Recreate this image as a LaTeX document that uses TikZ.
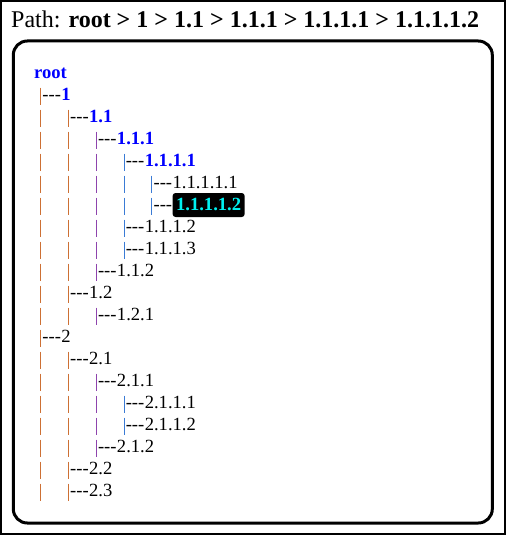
\documentclass[tikz,border=0pt]{standalone}
\usepackage{fontspec}
\setmainfont{Liberation Serif}
\usepackage{xcolor}
\usetikzlibrary{positioning}
\definecolor{pipeA}{RGB}{205,112,52}
\definecolor{pipeB}{RGB}{142,68,173}
\definecolor{pipeC}{RGB}{58,123,213}
\definecolor{pathblue}{RGB}{0,0,255}
\definecolor{hlcyan}{RGB}{0,240,240}
\newcommand{\treedash}{\mbox{-}\mbox{-}\mbox{-}}
\tikzset{
  entry/.style={anchor=base west, inner sep=0pt, font=\fontsize{18.6}{22}\selectfont},
  onpath/.style={entry, text=pathblue, font=\fontsize{18.6}{22}\selectfont\bfseries},
  current/.style={anchor=base west, fill=black, text=hlcyan, rounded corners=3pt,
    inner xsep=3.5pt, inner ysep=0pt, text height=17pt, text depth=7pt,
    font=\fontsize{18.6}{22}\selectfont\bfseries},
  pipe/.style={line width=1.1pt},
}

\begin{document}
\begin{tikzpicture}[x=1pt, y=-1pt]
    \useasboundingbox (0,0) rectangle (506,535);
    \draw[line width=2pt] (1,1) rectangle (505,534);
    \node[anchor=base west, inner sep=0pt, font=\fontsize{24}{28}\selectfont] (title) at (11,28)
      {Path: \textbf{root > 1 > 1.1 > 1.1.1 > 1.1.1.1 > 1.1.1.1.2}};
    \draw[line width=3pt, rounded corners=14pt] (13.3,41) rectangle (492.3,523);
    \node[onpath] (root) at (34,78) {root};
    % depth / label / style of each row
    \foreach \d/\lab/\kind [count=\i] in {
      1/1/onpath, 2/1.1/onpath, 3/1.1.1/onpath, 4/1.1.1.1/onpath,
      5/1.1.1.1.1/entry, 5/1.1.1.1.2/current, 4/1.1.1.2/entry, 4/1.1.1.3/entry,
      3/1.1.2/entry, 2/1.2/entry, 3/1.2.1/entry, 1/2/entry, 2/2.1/entry,
      3/2.1.1/entry, 4/2.1.1.1/entry, 4/2.1.1.2/entry, 3/2.1.2/entry,
      2/2.2/entry, 2/2.3/entry} {
      \pgfmathsetmacro\yb{78+22*\i}
      \foreach \k/\col in {1/pipeA, 2/pipeA, 3/pipeB, 4/pipeC, 5/pipeC} {
        \ifnum\k>\d\relax\else
          \draw[pipe, \col] ({40.7+27.8*(\k-1)},\yb-12.5) -- ++(0,17);
        \fi
      }
      \node[entry] (dash\i) at ({42.2+27.8*(\d-1)},\yb) {\treedash};
      \node[\kind] (row\i) at (dash\i.base east) {\lab};
    }
\end{tikzpicture}
\end{document}
